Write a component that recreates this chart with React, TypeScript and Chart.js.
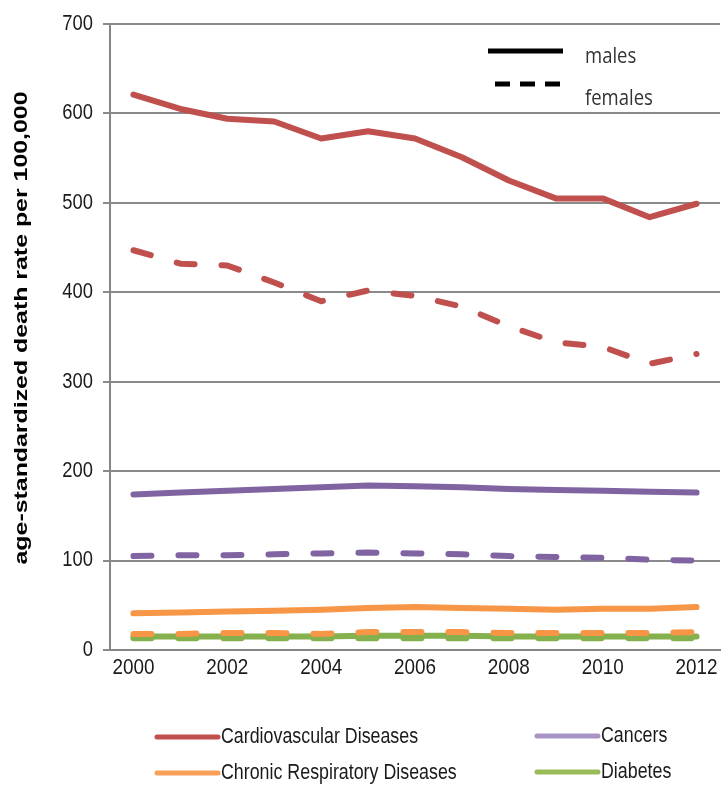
import React, { useEffect, useRef } from "react";
import { Chart, registerables } from "chart.js";

Chart.register(...registerables);

const years = ["2000","2001","2002","2003","2004","2005","2006","2007","2008","2009","2010","2011","2012"];
const yTicks = [0, 100, 200, 300, 400, 500, 600, 700];
const yTitle = "age-standardized death rate per 100,000";

const cvdMales = [621, 605, 594, 591, 572, 580, 572, 551, 525, 505, 505, 484, 499];
const cvdFemales = [447, 432, 430, 411, 390, 402, 396, 384, 362, 344, 339, 320, 331];
const cancerMales = [174, 176, 178, 180, 182, 184, 183, 182, 180, 179, 178, 177, 176];
const cancerFemales = [105, 106, 106, 107, 108, 109, 108, 107, 105, 104, 103, 101, 100];
const crdMales = [41, 42, 43, 44, 45, 47, 48, 47, 46, 45, 46, 46, 48];
const crdFemales = [18, 18, 19, 19, 18, 20, 20, 20, 19, 19, 19, 19, 20];
const diabetesMales = [15, 15, 15, 15, 15, 16, 16, 16, 15, 15, 15, 15, 15];
const diabetesFemales = [13, 13, 13, 13, 13, 13, 13, 13, 13, 13, 13, 13, 13];

const legendNames = ["Cardiovascular Diseases", "Cancers", "Chronic Respiratory Diseases", "Diabetes"];
const sexNames = ["males", "females"];

const C_CVD = "#c0504d";
const C_CAN = "#8064a2";
const C_CRD = "#f79646";
const C_DIA = "#85b04e";
const L_CVD = "#c0504d";
const L_CAN = "#a795c6";
const L_CRD = "#f8a058";
const L_DIA = "#9bbb59";

const DASH = [18, 27];
const SANS = '"Liberation Sans", Arial, sans-serif';

function drawText(
  ctx: CanvasRenderingContext2D,
  text: string,
  x: number,
  y: number,
  font: string,
  sx: number,
  sy: number,
  align: CanvasTextAlign,
  rot = 0
) {
  ctx.save();
  ctx.translate(x, y);
  if (rot) ctx.rotate(rot);
  ctx.scale(sx, sy);
  ctx.font = font;
  ctx.textAlign = align;
  ctx.textBaseline = "middle";
  ctx.fillText(text, 0, 0);
  ctx.restore();
}

const textPlugin = {
  id: "customTexts",
  afterDraw(chart: any) {
    const ctx = chart.ctx as CanvasRenderingContext2D;
    const xs = chart.scales.x;
    const ys = chart.scales.y;
    ctx.save();

    // axis tick labels
    ctx.fillStyle = "#1a1a1a";
    const tickFont = "18px " + SANS;
    for (const v of yTicks) {
      drawText(ctx, String(v), 93, ys.getPixelForValue(v), tickFont, 1.02, 1.18, "right");
    }
    years.forEach((y, i) => {
      if (i % 2 === 0) drawText(ctx, y, xs.getPixelForValue(i), 668, tickFont, 1.05, 1.18, "center");
    });

    // y axis title
    ctx.fillStyle = "#000";
    const tFont = "bold 18px " + SANS;
    ctx.font = tFont;
    const tw = ctx.measureText(yTitle).width;
    drawText(ctx, yTitle, 22, 328, tFont, 473 / tw, 1, "center", -Math.PI / 2);

    // top-right males / females legend
    ctx.strokeStyle = "#000";
    ctx.lineWidth = 5;
    ctx.lineCap = "butt";
    ctx.setLineDash([]);
    ctx.beginPath();
    ctx.moveTo(488, 51);
    ctx.lineTo(563, 51);
    ctx.stroke();
    ctx.setLineDash([15, 10]);
    ctx.beginPath();
    ctx.moveTo(495, 84);
    ctx.lineTo(560, 84);
    ctx.stroke();
    ctx.setLineDash([]);
    ctx.fillStyle = "#333";
    const sFont = '18.5px "Open Sans", sans-serif';
    drawText(ctx, sexNames[0], 585, 57, sFont, 1, 1.15, "left");
    drawText(ctx, sexNames[1], 585, 99, sFont, 1, 1.15, "left");

    // bottom legend
    const items = [
      { name: legendNames[0], color: L_CVD, x: 157, y: 737 },
      { name: legendNames[1], color: L_CAN, x: 537, y: 736 },
      { name: legendNames[2], color: L_CRD, x: 157, y: 773 },
      { name: legendNames[3], color: L_DIA, x: 537, y: 772 },
    ];
    const lFont = "18px " + SANS;
    for (const it of items) {
      ctx.strokeStyle = it.color;
      ctx.lineWidth = 5;
      ctx.lineCap = "round";
      ctx.beginPath();
      ctx.moveTo(it.x, it.y);
      ctx.lineTo(it.x + 61, it.y);
      ctx.stroke();
      ctx.fillStyle = "#1a1a1a";
      drawText(ctx, it.name, it.x + 64, it.y, lFont, 0.99, 1.22, "left");
    }
    ctx.restore();
  },
};

function ds(label: string, data: number[], color: string, dashed: boolean, order: number) {
  return {
    label,
    data,
    borderColor: color,
    backgroundColor: color,
    borderWidth: 6,
    borderDash: dashed ? DASH : [],
    borderCapStyle: "round",
    borderJoinStyle: "round",
    pointRadius: 0,
    tension: 0,
    fill: false,
    order,
  };
}

export default function App() {
  const ref = useRef<HTMLCanvasElement | null>(null);
  useEffect(() => {
    if (!ref.current) return;
    const chart = new Chart(ref.current, {
      type: "line",
      data: {
        labels: years,
        datasets: [
          ds("Cardiovascular Diseases (males)", cvdMales, C_CVD, false, 1),
          ds("Cardiovascular Diseases (females)", cvdFemales, C_CVD, true, 2),
          ds("Cancers (males)", cancerMales, C_CAN, false, 3),
          ds("Cancers (females)", cancerFemales, C_CAN, true, 4),
          ds("Chronic Respiratory Diseases (males)", crdMales, C_CRD, false, 5),
          ds("Chronic Respiratory Diseases (females)", crdFemales, C_CRD, true, 6),
          ds("Diabetes (males)", diabetesMales, C_DIA, false, 7),
          ds("Diabetes (females)", diabetesFemales, C_DIA, true, 8),
        ] as any,
      },
      options: {
        responsive: false,
        animation: false,
        layout: { padding: { top: 24, right: 2, bottom: 105, left: 0 } },
        plugins: {
          legend: { display: false },
          tooltip: { enabled: false },
        },
        scales: {
          x: {
            type: "category",
            offset: true,
            grid: { display: false, drawTicks: false },
            border: { display: true, color: "#868686", width: 2 },
            ticks: { display: false, autoSkip: false, maxRotation: 0 },
            afterFit: (s: any) => {
              s.height = 30;
            },
          },
          y: {
            min: yTicks[0],
            max: yTicks[yTicks.length - 1],
            afterBuildTicks: (s: any) => {
              s.ticks = yTicks.map((v) => ({ value: v }));
            },
            grid: { color: "#8a8a8a", lineWidth: 2, tickLength: 7, drawTicks: true },
            border: { display: true, color: "#868686", width: 2 },
            ticks: { display: false },
            title: { display: false },
            afterFit: (s: any) => {
              s.width = 110;
            },
          },
        },
      },
      plugins: [textPlugin],
    });
    return () => chart.destroy();
  }, []);
  return (
    <div style={{ position: "absolute", left: 0, top: 0, width: 722, height: 785, background: "#fff" }}>
      <canvas ref={ref} width={722} height={785} style={{ display: "block" }} />
    </div>
  );
}
